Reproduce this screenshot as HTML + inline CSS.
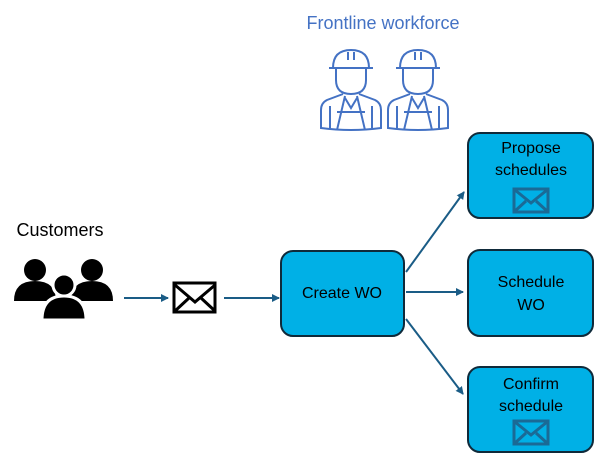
<!DOCTYPE html>
<html><head><style>
body{margin:0;width:612px;height:465px;background:#fff;overflow:hidden;font-family:"Liberation Sans",sans-serif}
</style></head><body>
<svg width="612" height="465" viewBox="0 0 612 465" xmlns="http://www.w3.org/2000/svg">
<defs><marker id="a" markerWidth="8" markerHeight="8" refX="7" refY="4" orient="auto" markerUnits="userSpaceOnUse"><path d="M0,0 L8,4 L0,8 z" fill="#1a5c86"/></marker></defs>
<text x="383" y="29" font-size="18" fill="#4472c4" text-anchor="middle">Frontline workforce</text>
<g fill="none" stroke="#4472c4" stroke-width="2">
<g id="w">
<path d="M333,68 q0,-18 18,-18 q18,0 18,18 M329,68 h44 M348,52 v8 M354,52 v8"/>
<path d="M336,68 v12 q0,14 15,14 q15,0 15,-14 v-12"/>
<path d="M343,94 l-16,6 q-6,3 -6,10 v18 q30,4 60,0 v-18 q0,-7 -6,-10 l-16,-6 M345,96 l-8,34 M357,96 l8,34 M345,98 l6,10 l6,-10 M337,112 h28 M330,106 v22 M372,106 v22"/>
</g>
<use href="#w" x="67"/>
</g>
<text x="60" y="236" font-size="18" fill="#000" text-anchor="middle">Customers</text>
<g fill="#000">
<circle cx="35" cy="270" r="11"/><path d="M14,301 q0,-20 21,-20 q21,0 21,20 z"/>
<circle cx="92" cy="270" r="11"/><path d="M71,301 q0,-20 21,-20 q21,0 21,20 z"/>
<circle cx="64" cy="285" r="11" stroke="#fff" stroke-width="3"/><path d="M42,320 q0,-24 22,-24 q22,0 22,24 z" stroke="#fff" stroke-width="3"/>
</g>
<g stroke="#000" stroke-width="3" fill="none"><rect x="174" y="283" width="41" height="29"/><path d="M175,285 l20,17 l20,-17 M175,311 l14,-13 M215,311 l-14,-13"/></g>
<g stroke="#1a5c86" stroke-width="2" marker-end="url(#a)">
<line x1="124" y1="298" x2="168" y2="298"/>
<line x1="224" y1="298" x2="279" y2="298"/>
<line x1="406" y1="272" x2="464" y2="192"/>
<line x1="406" y1="292" x2="463" y2="292"/>
<line x1="406" y1="319" x2="463" y2="394"/>
</g>
<g fill="#00b0e6" stroke="#0f2a3a" stroke-width="2">
<rect x="281" y="251" width="123" height="85" rx="12"/>
<rect x="468" y="133" width="125" height="85" rx="12"/>
<rect x="468" y="250" width="125" height="86" rx="12"/>
<rect x="468" y="367" width="125" height="85" rx="12"/>
</g>
<g font-size="16" fill="#000" text-anchor="middle">
<text x="342" y="298">Create WO</text>
<text x="531" y="153">Propose</text><text x="531" y="175">schedules</text>
<text x="531" y="287">Schedule</text><text x="531" y="310">WO</text>
<text x="531" y="389">Confirm</text><text x="531" y="411">schedule</text>
</g>
<g stroke="#1a6a96" stroke-width="3" fill="none">
<rect x="514" y="189" width="34" height="23"/><path d="M515,190 l16,13 l16,-13 M515,211 l11,-10 M547,211 l-11,-10"/>
<rect x="514" y="421" width="34" height="23"/><path d="M515,422 l16,13 l16,-13 M515,443 l11,-10 M547,443 l-11,-10"/>
</g>
</svg>
</body></html>
